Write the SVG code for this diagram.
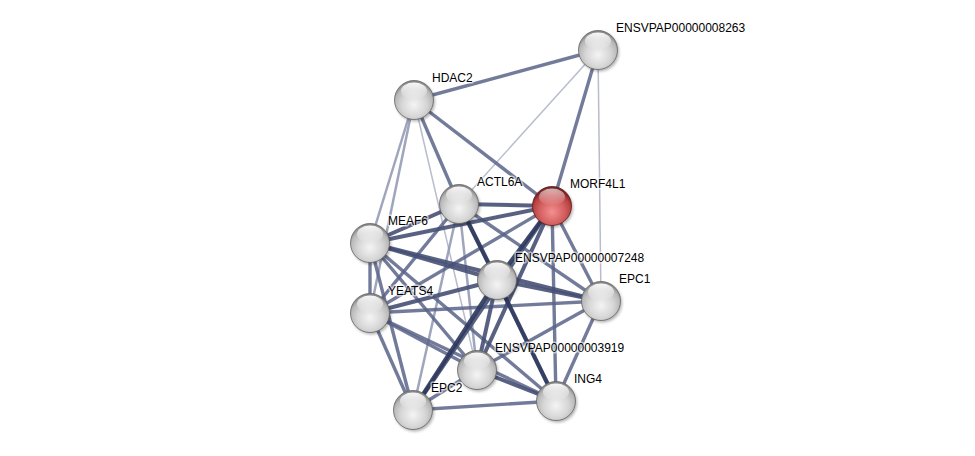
<svg xmlns="http://www.w3.org/2000/svg" width="975" height="456" viewBox="0 0 975 456">
<defs>
<radialGradient id="gg" cx="50%" cy="62%" r="58%">
<stop offset="0" stop-color="#f4f4f4"/>
<stop offset="0.55" stop-color="#d6d6d6"/>
<stop offset="0.85" stop-color="#b8b8b8"/>
<stop offset="1" stop-color="#888888"/>
</radialGradient>
<radialGradient id="rg" cx="50%" cy="65%" r="58%">
<stop offset="0" stop-color="#f49090"/>
<stop offset="0.55" stop-color="#d46060"/>
<stop offset="0.85" stop-color="#b84040"/>
<stop offset="1" stop-color="#7a2424"/>
</radialGradient>
<linearGradient id="hl" x1="0" y1="0" x2="0" y2="1">
<stop offset="0" stop-color="#ffffff" stop-opacity="0.95"/>
<stop offset="1" stop-color="#ffffff" stop-opacity="0"/>
</linearGradient>
<filter id="sh" x="-50%" y="-50%" width="200%" height="200%">
<feGaussianBlur stdDeviation="1.5"/>
</filter>
<g id="gnode">
<circle cx="1.5" cy="2" r="19.5" fill="#000" opacity="0.3" filter="url(#sh)"/>
<circle r="19.5" fill="url(#gg)" stroke="#666" stroke-width="0.8"/>
<ellipse cx="0" cy="-9" rx="13" ry="8.5" fill="url(#hl)"/>
</g>
<g id="rnode">
<circle cx="1.5" cy="2" r="19.5" fill="#000" opacity="0.3" filter="url(#sh)"/>
<circle r="19.5" fill="url(#rg)" stroke="#5e1c1c" stroke-width="0.8"/>
<ellipse cx="0" cy="-9" rx="13" ry="8.5" fill="url(#hl)" opacity="0.7"/>
</g>
</defs>
<style>
line{stroke-linecap:butt}
.s1{stroke:#2f3a5e;stroke-width:4.2;stroke-opacity:0.92}
.s2{stroke:#465074;stroke-width:4;stroke-opacity:0.9}
.s3{stroke:#5a6488;stroke-width:3.4;stroke-opacity:0.85}
.s4{stroke:#8e95b0;stroke-width:2.5;stroke-opacity:0.85}
.s5{stroke:#b8bccd;stroke-width:1.5}
text{font-family:"Liberation Sans",Arial,sans-serif;font-size:12px;fill:#000;stroke:#fff;stroke-width:3;stroke-opacity:0.6;paint-order:stroke;stroke-linejoin:round}
</style>
<rect width="975" height="456" fill="#fff"/>
<g id="edges">
<line class="s5" x1="598" y1="50" x2="601" y2="301"/>
<line class="s5" x1="598" y1="50" x2="459" y2="204"/>
<line class="s5" x1="414" y1="100" x2="477" y2="370"/>
<line class="s4" x1="414" y1="100" x2="370" y2="243"/>
<line class="s4" x1="414" y1="100" x2="370" y2="313"/>
<line class="s4" x1="459" y1="204" x2="413" y2="410"/>
<line class="s4" x1="459" y1="204" x2="477" y2="370"/>
<line class="s3" x1="370" y1="243" x2="413" y2="410"/>
<line class="s3" x1="370" y1="313" x2="413" y2="410"/>
<line class="s3" x1="414" y1="100" x2="598" y2="50"/>
<line class="s3" x1="414" y1="100" x2="552" y2="206"/>
<line class="s3" x1="414" y1="100" x2="459" y2="204"/>
<line class="s3" x1="598" y1="50" x2="552" y2="206"/>
<line class="s3" x1="370" y1="243" x2="370" y2="313"/>
<line class="s3" x1="370" y1="243" x2="477" y2="370"/>
<line class="s3" x1="370" y1="243" x2="556" y2="401"/>
<line class="s3" x1="370" y1="313" x2="477" y2="370"/>
<line class="s3" x1="370" y1="313" x2="556" y2="401"/>
<line class="s3" x1="370" y1="313" x2="601" y2="301"/>
<line class="s3" x1="413" y1="410" x2="556" y2="401"/>
<line class="s3" x1="413" y1="410" x2="477" y2="370"/>
<line class="s3" x1="459" y1="204" x2="601" y2="301"/>
<line class="s3" x1="459" y1="204" x2="556" y2="401"/>
<line class="s3" x1="552" y1="206" x2="601" y2="301"/>
<line class="s3" x1="552" y1="206" x2="556" y2="401"/>
<line class="s3" x1="601" y1="301" x2="556" y2="401"/>
<line class="s3" x1="601" y1="301" x2="477" y2="370"/>
<line class="s3" x1="552" y1="206" x2="370" y2="313"/>
<line class="s3" x1="459" y1="204" x2="370" y2="313"/>
<line class="s2" x1="459" y1="204" x2="552" y2="206"/>
<line class="s2" x1="459" y1="204" x2="370" y2="243"/>
<line class="s2" x1="552" y1="206" x2="370" y2="243"/>
<line class="s2" x1="370" y1="243" x2="601" y2="301"/>
<line class="s2" x1="370" y1="243" x2="497" y2="280"/>
<line class="s2" x1="370" y1="313" x2="497" y2="280"/>
<line class="s2" x1="552" y1="206" x2="477" y2="370"/>
<line class="s2" x1="552" y1="206" x2="413" y2="410"/>
<line class="s2" x1="497" y1="280" x2="601" y2="301"/>
<line class="s2" x1="477" y1="370" x2="556" y2="401"/>
<line class="s2" x1="497" y1="280" x2="477" y2="370"/>
<line class="s1" x1="552" y1="206" x2="497" y2="280"/>
<line class="s1" x1="459" y1="204" x2="497" y2="280"/>
<line class="s1" x1="497" y1="280" x2="556" y2="401"/>
<line class="s1" x1="497" y1="280" x2="413" y2="410"/>
</g>
<g id="n8263"><use href="#gnode" x="598" y="50"/><text x="616" y="32">ENSVPAP00000008263</text></g>
<g id="hdac2"><use href="#gnode" x="414" y="100"/><text x="432" y="82">HDAC2</text></g>
<g id="actl6a"><use href="#gnode" x="459" y="204"/><text x="477" y="186">ACTL6A</text></g>
<g id="morf4l1"><use href="#rnode" x="552" y="206"/><text x="570" y="188">MORF4L1</text></g>
<g id="meaf6"><use href="#gnode" x="370" y="243"/><text x="388" y="225">MEAF6</text></g>
<g id="n7248"><use href="#gnode" x="497" y="280"/><text x="515" y="262">ENSVPAP00000007248</text></g>
<g id="epc1"><use href="#gnode" x="601" y="301"/><text x="619" y="283">EPC1</text></g>
<g id="yeats4"><use href="#gnode" x="370" y="313"/><text x="388" y="295">YEATS4</text></g>
<g id="n3919"><use href="#gnode" x="477" y="370"/><text x="495" y="352">ENSVPAP00000003919</text></g>
<g id="ing4"><use href="#gnode" x="556" y="401"/><text x="574" y="383">ING4</text></g>
<g id="epc2"><use href="#gnode" x="413" y="410"/><text x="431" y="392">EPC2</text></g>
</svg>
